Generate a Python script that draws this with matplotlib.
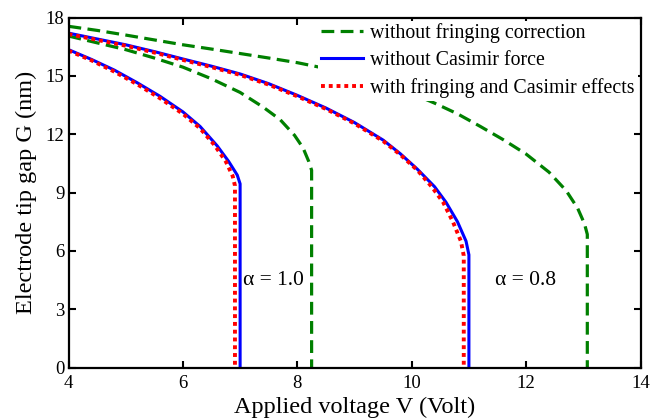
import matplotlib
matplotlib.use('Agg')
import matplotlib.pyplot as plt

# alpha = 1.0 curves
v_nocas_10 = [4.0, 4.4, 4.8, 5.2, 5.6, 6.0, 6.3, 6.6, 6.8, 6.95, 7.0, 7.0]
g_nocas_10 = [16.35, 15.85, 15.3, 14.65, 13.95, 13.15, 12.4, 11.4, 10.6, 9.9, 9.45, 0.0]
v_both_10 = [4.0, 4.4, 4.8, 5.2, 5.6, 6.0, 6.3, 6.55, 6.75, 6.87, 6.91, 6.91]
g_both_10 = [16.3, 15.8, 15.22, 14.57, 13.85, 13.05, 12.3, 11.45, 10.6, 9.85, 9.35, 0.0]
v_nofr_10 = [4.0, 4.5, 5.0, 5.5, 6.0, 6.5, 7.0, 7.4, 7.7, 7.95, 8.1, 8.2, 8.25, 8.25]
g_nofr_10 = [17.05, 16.7, 16.35, 15.92, 15.45, 14.85, 14.15, 13.4, 12.75, 11.95, 11.3, 10.6, 10.15, 0.0]

# alpha = 0.8 curves
v_nocas_08 = [4.0, 4.5, 5.0, 5.5, 6.0, 6.5, 7.0, 7.5, 8.0, 8.5, 9.0, 9.5, 9.8,
              10.1, 10.4, 10.6, 10.8, 10.95, 11.0, 11.0]
g_nocas_08 = [17.2, 16.9, 16.6, 16.25, 15.87, 15.5, 15.1, 14.6, 14.0, 13.35, 12.6,
              11.7, 11.0, 10.2, 9.3, 8.5, 7.5, 6.5, 5.8, 0.0]
v_both_08 = [4.0, 4.5, 5.0, 5.5, 6.0, 6.5, 7.0, 7.5, 8.0, 8.5, 9.0, 9.5, 9.8,
             10.1, 10.35, 10.55, 10.72, 10.86, 10.91, 10.91]
g_both_08 = [17.15, 16.85, 16.55, 16.2, 15.82, 15.45, 15.05, 14.55, 13.95, 13.3, 12.55,
             11.65, 10.95, 10.15, 9.3, 8.5, 7.5, 6.5, 5.75, 0.0]
v_nofr_08 = [4.0, 4.5, 5.0, 5.5, 6.0, 6.5, 7.0, 7.5, 8.0, 8.5, 9.0, 9.5, 10.0, 10.4,
             10.8, 11.2, 11.6, 12.0, 12.4, 12.7, 12.9, 13.02, 13.07, 13.07]
g_nofr_08 = [17.55, 17.34, 17.1, 16.85, 16.6, 16.38, 16.15, 15.92, 15.68, 15.38, 15.02,
             14.6, 14.1, 13.6, 13.05, 12.4, 11.72, 10.98, 10.05, 9.1, 8.2, 7.4, 6.85, 0.0]

labels = ['without fringing correction', 'without Casimir force',
          'with fringing and Casimir effects']
xticks = [4, 6, 8, 10, 12, 14]
yticks = [0, 3, 6, 9, 12, 15, 18]

plt.rcParams['font.family'] = ['Liberation Serif', 'DejaVu Serif']

green = '#008000'
blue = '#0000ff'
red = '#ff0000'


def main():
    fig = plt.figure(figsize=(6.5, 4.18), dpi=100)
    ax = fig.add_axes([0.1054, 0.1206, 0.88, 0.8374])

    ax.plot(v_nofr_08, g_nofr_08, color=green, lw=2.3, dashes=(4, 2), label=labels[0])
    ax.plot(v_nofr_10, g_nofr_10, color=green, lw=2.3, dashes=(4, 2))
    ax.plot(v_nocas_08, g_nocas_08, color=blue, lw=2.2, label=labels[1])
    ax.plot(v_nocas_10, g_nocas_10, color=blue, lw=2.2)
    ax.plot(v_both_08, g_both_08, color=red, lw=2.8, dashes=(1, 1.0), label=labels[2])
    ax.plot(v_both_10, g_both_10, color=red, lw=2.8, dashes=(1, 1.0))

    ax.text(7.05, 4.5, 'α = 1.0', fontsize=15.5, va='center', ha='left')
    ax.text(11.45, 4.5, 'α = 0.8', fontsize=15.5, va='center', ha='left')

    ax.set_xlim(4, 14)
    ax.set_ylim(0, 18)
    ax.set_xticks(xticks)
    ax.set_yticks(yticks)
    ax.tick_params(direction='in', top=True, right=True, length=5, width=1.5,
                   labelsize=13.5)
    ax.tick_params(axis='x', pad=5)
    ax.tick_params(axis='y', pad=3)
    for sp in ax.spines.values():
        sp.set_linewidth(1.6)

    ax.set_xlabel('Applied voltage V (Volt)', fontsize=17.5, labelpad=3.5)
    ax.set_ylabel('Electrode tip gap G (nm)', fontsize=17.5, labelpad=6)

    leg = ax.legend(loc='upper right', fontsize=14.3, frameon=True, fancybox=False,
                    framealpha=1, edgecolor='none', handlelength=2.1,
                    handletextpad=0.35, labelspacing=0.4, borderpad=0.15,
                    borderaxespad=0.15)
    leg.get_frame().set_facecolor('white')

    fig.savefig('out.png', dpi=100)


if __name__ == '__main__':
    main()
